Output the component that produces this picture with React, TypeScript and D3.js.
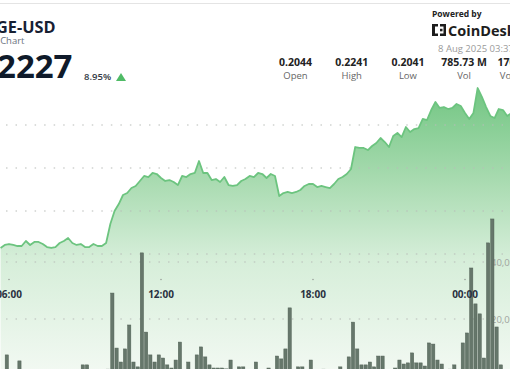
import React from "react";
import * as d3 from "d3";

// ---- data ----
const startTime = Date.UTC(2025, 7, 7, 5, 40); // first sample, 10-minute steps
const stepMinutes = 10;

const priceValues = [
  0.2057, 0.20605, 0.20616, 0.20605, 0.20593, 0.20593, 0.20651, 0.20605, 0.2064, 0.2064,
  0.20616, 0.20581, 0.2057, 0.20581, 0.20628, 0.20651, 0.20686, 0.20628, 0.20605, 0.20616,
  0.20581, 0.20581, 0.20616, 0.20593, 0.20593, 0.20628, 0.20849, 0.21, 0.21081, 0.21186,
  0.21209, 0.21267, 0.21291, 0.21349, 0.21407, 0.21395, 0.21442, 0.2143, 0.21384, 0.21349,
  0.2136, 0.21337, 0.21302, 0.21407, 0.21395, 0.2143, 0.21442, 0.21581, 0.21442, 0.21442,
  0.2136, 0.21372, 0.21337, 0.21395, 0.21302, 0.21291, 0.21302, 0.21349, 0.21372, 0.21407,
  0.21395, 0.21442, 0.2143, 0.21384, 0.2143, 0.21407, 0.21174, 0.21209, 0.21221, 0.21209,
  0.21221, 0.21244, 0.21291, 0.21314, 0.21314, 0.21279, 0.21291, 0.21279, 0.21267, 0.21314,
  0.21372, 0.21395, 0.2143, 0.21488, 0.21744, 0.21733, 0.21733, 0.21709, 0.21756, 0.21791,
  0.21849, 0.21802, 0.21744, 0.21872, 0.21907, 0.2186, 0.21977, 0.21919, 0.21953, 0.21965,
  0.2207, 0.22058, 0.22174, 0.22267, 0.22198, 0.22209, 0.22186, 0.22198, 0.22244, 0.22221,
  0.2214, 0.2207, 0.2214, 0.2243, 0.22326, 0.22209, 0.22105, 0.22081, 0.22186, 0.22174,
  0.22105, 0.2214,
];

// volume per 10-minute slot, millions of DOGE
const volumeValues = [
  1.5, 7.4, 1.8, 2.0, 5.3, 1.6, 2.1, 1.4, 1.9, 2.2,
  1.7, 1.3, 2.0, 1.8, 2.3, 1.5, 1.9, 2.1, 1.6, 3.9,
  3.9, 2.0, 1.7, 2.2, 1.8, 2.4, 29.1, 9.8, 4.9, 9.5,
  17.9, 4.9, 3.2, 43.2, 15.4, 7.4, 4.9, 7.4, 6.3, 3.9,
  2.8, 5.6, 11.9, 2.2, 4.9, 2.1, 7.4, 10.2, 6.7, 3.9,
  2.8, 2.8, 2.8, 2.5, 5.6, 2.0, 3.2, 3.2, 2.2, 1.9,
  4.9, 2.1, 2.3, 2.8, 2.2, 7.0, 6.0, 9.5, 23.9, 2.3,
  3.2, 3.2, 2.0, 5.6, 2.1, 1.8, 2.4, 1.9, 2.2, 2.2,
  3.2, 2.0, 6.7, 18.9, 9.5, 3.9, 3.9, 4.9, 3.2, 7.0,
  7.0, 2.3, 2.1, 2.8, 5.6, 4.2, 4.6, 8.1, 4.6, 4.6,
  3.5, 11.6, 11.2, 5.6, 4.2, 2.2, 2.4, 3.9, 2.3, 11.6,
  15.1, 37.9, 25.3, 21.8, 6.3, 46.7, 55.1, 17.2, 3.9, 2.0,
];

const xTickHours = [6, 12, 18, 24];
const xTickLabels = ["06:00", "12:00", "18:00", "00:00"];
const priceGridValues = [0.205, 0.21, 0.215, 0.22];
const volumeGridValues = [20, 40];
const volumeGridLabels = ["20,000,000", "40,000,000"];
const statValues = ["0.2044", "0.2241", "0.2041", "785.73 M", "170.44 M"];
const statLabels = ["Open", "High", "Low", "Vol", "Vol (USD)"];

const W = 510;
const H = 369;
const FONT = "'Open Sans', 'Noto Sans', sans-serif";

export default function App() {
  const t = (i: number) => new Date(startTime + i * stepMinutes * 60000);
  const x = d3
    .scaleUtc()
    .domain([new Date(Date.UTC(2025, 7, 7, 6)), new Date(Date.UTC(2025, 7, 8, 0))])
    .range([9, 465]);
  const yPrice = d3.scaleLinear().domain([0.205, 0.22]).range([254, 125]);
  const yVol = d3.scaleLinear().domain([0, 40]).range([376, 262]);

  const pts = priceValues.map((v, i) => ({ d: t(i), v }));
  const line = d3
    .line<{ d: Date; v: number }>()
    .x((p) => x(p.d))
    .y((p) => yPrice(p.v));
  const area = d3
    .area<{ d: Date; v: number }>()
    .x((p) => x(p.d))
    .y0(376)
    .y1((p) => yPrice(p.v));

  const statX = d3.scaleLinear().domain([0, 4]).range([295.5, 520.3]);

  return (
    <svg
      width={W}
      height={H}
      style={{ position: "fixed", left: 0, top: 0, background: "#fff" }}
      fontFamily={FONT}
    >
      <defs>
        <linearGradient id="areaGrad" gradientUnits="userSpaceOnUse" x1="0" y1="85" x2="0" y2="376">
          <stop offset="0" stopColor="#70c581" />
          <stop offset="0.33" stopColor="#a9dbb1" />
          <stop offset="0.6" stopColor="#d6eed9" />
          <stop offset="1" stopColor="#f3f9f3" />
        </linearGradient>
      </defs>
      <rect x={0} y={0} width={W} height={H} fill="#fff" />
      <line x1={0} x2={W} y1={3.5} y2={3.5} stroke="#e4e4e4" strokeWidth={1} />

      {/* header left */}
      <text x={55.5} y={32.5} textAnchor="end" fontSize={16.3} fontWeight={700} fill="#172033">
        DOGE-USD
      </text>
      <text x={24.5} y={44} textAnchor="end" fontSize={9.5} fill="#6b7280">
        Price Chart
      </text>
      <text x={72.5} y={78} textAnchor="end" fontSize={33} fontWeight={700} fill="#0f1a2a">
        0.2227
      </text>
      <text x={84} y={80} fontSize={9.5} fontWeight={600} fill="#333a44">
        8.95%
      </text>
      <path d="M116,81 L121,73 L126,81 Z" fill="#4fbb66" />

      {/* header right */}
      <text x={432} y={17} fontSize={8.5} fontWeight={700} fill="#222">
        Powered by
      </text>
      <g fill="#1d1d1d">
        <rect x={432} y={24} width={3} height={12} />
        <rect x={432} y={24} width={6} height={2.5} />
        <rect x={432} y={33.5} width={6} height={2.5} />
        <rect x={440} y={24} width={6} height={2.5} />
        <rect x={440} y={33.5} width={6} height={2.5} />
        <rect x={440} y={28.8} width={2.5} height={2.5} />
        <rect x={443.5} y={24} width={2.5} height={12} />
      </g>
      <text x={448} y={36} fontSize={14.5} fontWeight={700} fill="#1d1d1d">
        CoinDesk
      </text>
      <text x={438} y={52} fontSize={9.5} fill="#9a9a9a">
        8 Aug 2025 03:37 UTC
      </text>
      {statValues.map((s, i) => (
        <g key={s}>
          <text x={statX(i)} y={66} textAnchor="middle" fontSize={10.5} fontWeight={700} fill="#222">
            {s}
          </text>
          <text x={statX(i)} y={79} textAnchor="middle" fontSize={9.5} fill="#666">
            {statLabels[i]}
          </text>
        </g>
      ))}

      {/* price area */}
      <path d={area(pts) || ""} fill="url(#areaGrad)" />

      {/* gridlines */}
      {priceGridValues.map((g) => (
        <line
          key={"p" + g}
          x1={6}
          x2={503}
          y1={yPrice(g)}
          y2={yPrice(g)}
          stroke="#b8bcb8"
          strokeWidth={1.2}
          strokeDasharray="1.5 8.03"
        />
      ))}
      {volumeGridValues.map((g, i) => (
        <g key={"v" + g}>
          <line
            x1={6}
            x2={492}
            y1={yVol(g)}
            y2={yVol(g)}
            stroke="#b8bcb8"
            strokeWidth={1.2}
            strokeDasharray="1.5 8.03"
          />
          <text x={491} y={yVol(g) + 3.5} fontSize={9.5} fill="#a0a4a0">
            {volumeGridLabels[i]}
          </text>
        </g>
      ))}

      {/* volume bars */}
      {volumeValues.map((v, i) => {
        const x0 = x(t(i)) + 0.4;
        const x1 = x(t(i + 1)) - 0.6;
        const y = yVol(v);
        return (
          <rect
            key={"b" + i}
            x={x0}
            y={y}
            width={x1 - x0}
            height={376 - y}
            fill="#66776b"
            stroke="#506055"
            strokeWidth={0.5}
          />
        );
      })}

      {/* price line */}
      <path d={line(pts) || ""} fill="none" stroke="#6cc47f" strokeWidth={1.8} strokeLinejoin="round" />

      {/* x axis */}
      {xTickHours.map((h, i) => {
        const px = x(new Date(Date.UTC(2025, 7, 7, h)));
        return (
          <g key={"t" + h}>
            <circle cx={px} cy={279.5} r={0.8} fill="#9aa09a" />
            <text x={px} y={297.5} textAnchor="middle" fontSize={10} fontWeight={700} fill="#2a3140">
              {xTickLabels[i]}
            </text>
          </g>
        );
      })}
    </svg>
  );
}
